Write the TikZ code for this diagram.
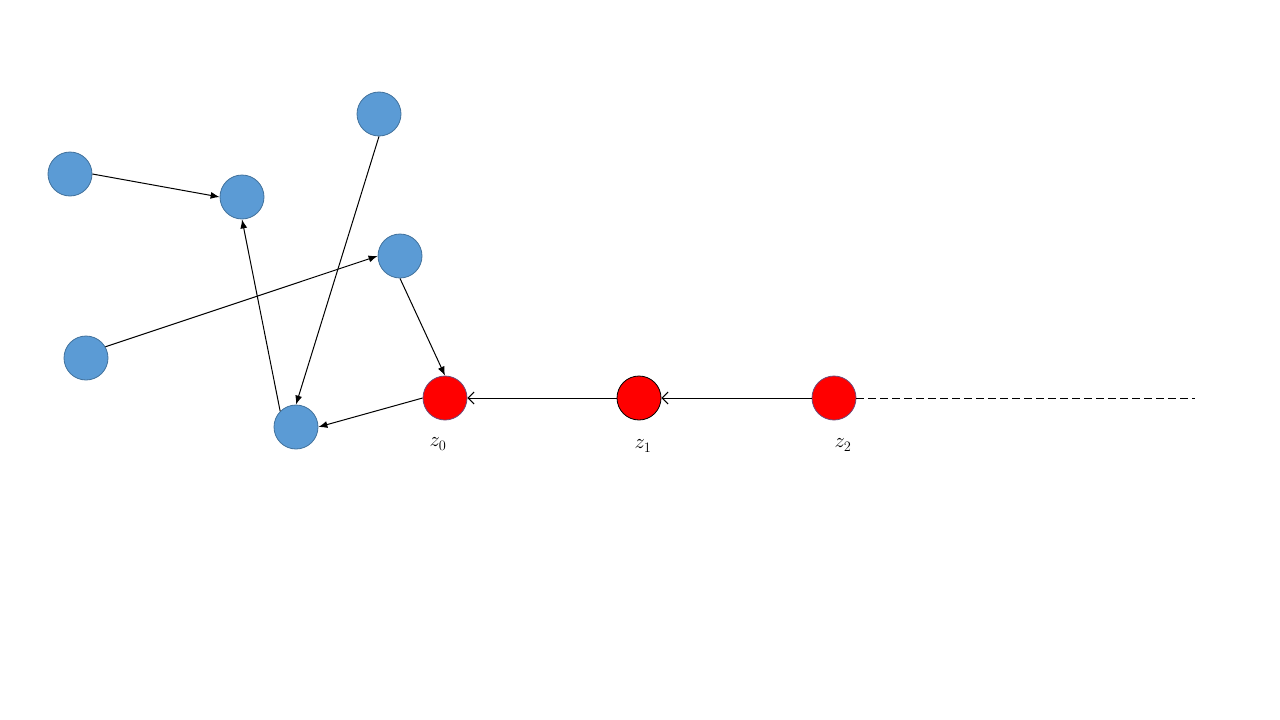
\documentclass[tikz,border=0pt]{standalone}
\usetikzlibrary{arrows.meta}
\definecolor{bluefill}{RGB}{91,155,213}
\definecolor{blueline}{RGB}{65,113,156}
\definecolor{redborder}{RGB}{110,75,120}
\tikzset{
  bnode/.style={circle,fill=bluefill,draw=blueline,line width=0.8pt,minimum size=44pt,inner sep=0pt},
  rnode/.style={circle,fill=red,draw=redborder,line width=0.8pt,minimum size=44pt,inner sep=0pt},
  barrow/.style={-{Latex[length=9pt,width=7pt]},line width=1pt},
  rarrow/.style={-{Straight Barb[length=6pt,width=12pt]},line width=1pt},
  lbl/.style={font=\fontsize{21}{25}\selectfont}
}
\begin{document}
\begin{tikzpicture}[x=1pt,y=-1pt]
\useasboundingbox (0,0) rectangle (1280,720);
\node[bnode] (A) at (70,174) {};
\node[bnode] (B) at (242,197) {};
\node[bnode] (C) at (379,114) {};
\node[bnode] (D) at (400,256) {};
\node[bnode] (E) at (86,358) {};
\node[bnode] (F) at (296,427) {};
\node[rnode] (z0) at (445,398) {};
\node[rnode,draw=black] (z1) at (639,398) {};
\node[rnode] (z2) at (834,398) {};
\coordinate (end) at (1195,398);
\node[lbl] (l0) at (438,444) {$z_0$};
\node[lbl] (l1) at (643,446) {$z_1$};
\node[lbl] (l2) at (843,445) {$z_2$};
\draw[barrow] (A.east) -- (B.west);
\draw[barrow] (C.south) -- (F.north);
\draw[barrow] (E.30) -- (D.west);
\draw[barrow] (D.south) -- (z0.north);
\draw[barrow] (F.north west) -- (B.south);
\draw[barrow] (z0.west) -- (F.east);
\draw[rarrow] (z1) -- (z0);
\draw[rarrow] (z2) -- (z1);
\draw[line width=1pt,dash pattern=on 8pt off 4pt] (z2) -- (end);
\end{tikzpicture}
\end{document}
